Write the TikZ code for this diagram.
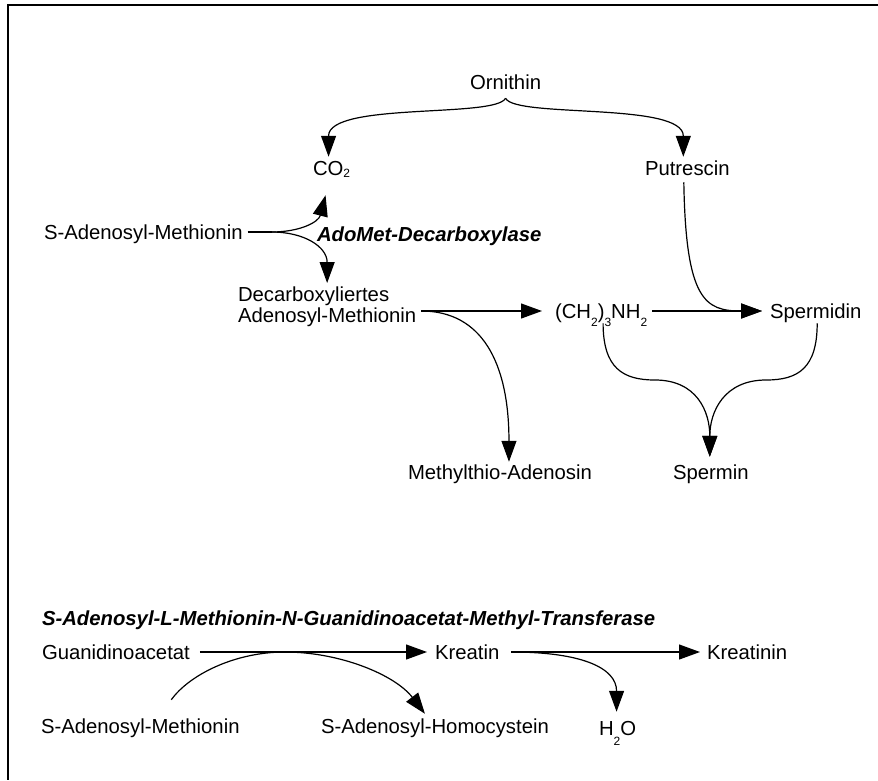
\documentclass[tikz,border=0pt]{standalone}
\usepackage{fontspec}
\setmainfont{Liberation Sans}
\usetikzlibrary{arrows.meta}
\newcommand{\lowsub}[2][8pt]{\raisebox{-#1}{\fontsize{12}{12}\selectfont #2}}
\tikzset{
  txt/.style={inner sep=0pt, outer sep=0pt, font=\fontsize{20.3}{21}\selectfont},
  lbl/.style={txt, anchor=west, text height=14.5pt, text depth=0pt},
  enz/.style={lbl, font=\fontsize{20.3}{21}\selectfont\bfseries\itshape},
  link/.style={line width=1.2pt},
  rxn/.style={link, -{Triangle[length=21pt,width=15pt]}}
}

\begin{document}
\begin{tikzpicture}[x=1pt, y=-1pt]
  \useasboundingbox (0,0) rectangle (878,780);
  \draw[line width=2pt] (878,5) -- (8,5) -- (8,780);

  \node[lbl] (orn) at (470,82) {Ornithin};
  \node[lbl] (co2) at (313,168) {CO\lowsub[2pt]{2}};
  \node[lbl] (put) at (645,168) {Putrescin};
  \node[lbl] (sam) at (44,232) {S-Adenosyl-Methionin};
  \node[enz] (adomet) at (317,234) {AdoMet-Decarboxylase};
  \node[txt, align=left, anchor=north west] (dsam) at (238,287) {Decarboxyliertes\\Adenosyl-Methionin};
  \node[lbl] (cha) at (555,311) {(CH\lowsub{2})\lowsub{3}NH\lowsub{2}};
  \node[lbl] (spd) at (770,311) {Spermidin};
  \node[lbl] (mta) at (408,472) {Methylthio-Adenosin};
  \node[lbl] (spm) at (673,472) {Spermin};

  \coordinate (ornfork) at ([yshift=-9pt]orn.south);
  \draw[rxn] (ornfork) .. controls +(-10,20) and +(0,-55) .. ([xshift=-3pt,yshift=4pt]co2.north);
  \draw[rxn] (ornfork) .. controls +(10,20) and +(0,-55) .. ([xshift=-4pt,yshift=4pt]put.north);

  \coordinate (samfork) at ([xshift=29pt]sam.east);
  \draw[link] ([xshift=5pt]sam.east) -- (samfork);
  \draw[rxn] (samfork) .. controls +(28,0) and +(-7,27) .. ([xshift=-6pt,yshift=-20pt]co2.south);
  \draw[rxn] (samfork) .. controls +(33,0) and +(0,-36) .. ([yshift=4pt]dsam.north);

  \coordinate (dsamout) at ([xshift=5pt]dsam.east |- cha.west);
  \draw[rxn] (dsamout) -- ([xshift=-13pt]cha.west);
  \draw[rxn] (dsamout) .. controls +(60,0) and +(0,-100) .. ([xshift=9pt,yshift=3pt]mta.north);
  \draw[rxn] ([xshift=5pt]cha.east) -- ([xshift=-8pt]spd.west);
  \draw[rxn] ([xshift=-3.5pt,yshift=-7pt]put.south) .. controls +(2,118) and +(-57,0) .. ([xshift=-8pt]spd.west);

  \coordinate (spmleft) at (655,380);
  \coordinate (spmright) at (766,380);
  \draw[rxn] ([xshift=2pt,yshift=-5pt]cha.south) .. controls +(0,45) and +(-32,0) .. (spmleft)
    .. controls +(42,0) and +(0,-45) .. ([xshift=-1pt,yshift=8pt]spm.north);
  \draw[rxn] ([xshift=1.5pt,yshift=-5pt]spd.south) .. controls +(0,45) and +(32,0) .. (spmright)
    .. controls +(-42,0) and +(0,-45) .. ([xshift=-1pt,yshift=8pt]spm.north);

  \begin{scope}
    \node[enz] (gamt) at (42,618) {S-Adenosyl-L-Methionin-N-Guanidinoacetat-Methyl-Transferase};
    \node[lbl] (gaa) at (42,652) {Guanidinoacetat};
    \node[lbl] (kre) at (435,652) {Kreatin};
    \node[lbl] (krn) at (707,652) {Kreatinin};
    \node[lbl] (sam2) at (41,726) {S-Adenosyl-Methionin};
    \node[lbl] (sah) at (321,726) {S-Adenosyl-Homocystein};
    \node[lbl] (h2o) at (599,728) {H\lowsub[10pt]{2}O};

    \draw[rxn] ([xshift=10pt]gaa.east) -- ([xshift=-8pt]kre.west);
    \coordinate (gaajoin) at ([xshift=95pt]gaa.east);
    \draw[rxn] ([xshift=31pt,yshift=19pt]sam2.north) .. controls +(18,-25) and +(-50,0) .. (gaajoin)
      .. controls +(55,0) and +(-30,-39) .. ([xshift=-10pt,yshift=5pt]sah.north);
    \coordinate (kreout) at ([xshift=12pt]kre.east);
    \draw[rxn] (kreout) -- ([xshift=-7pt]krn.west);
    \draw[rxn] (kreout) .. controls +(70,0) and +(0,-44) .. ([xshift=-1pt,yshift=9pt]h2o.north);
  \end{scope}
\end{tikzpicture}
\end{document}
